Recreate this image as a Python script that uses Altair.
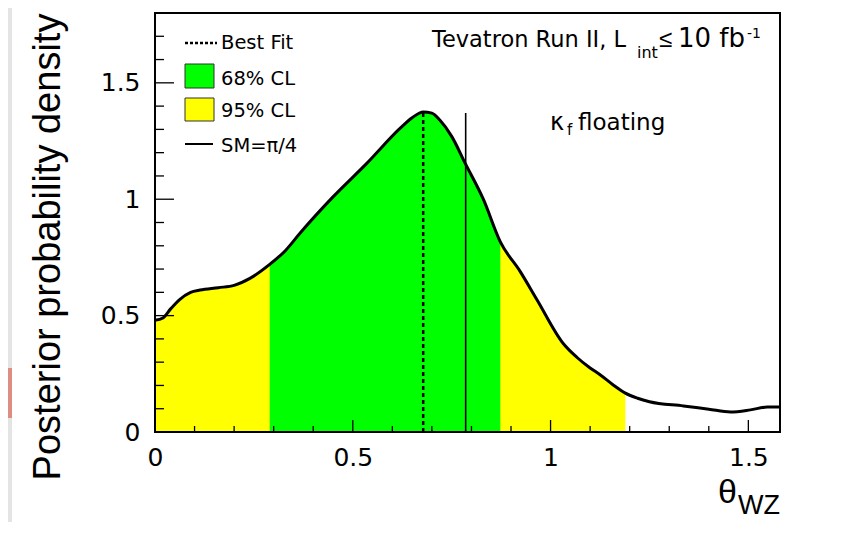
import altair as alt
import pandas as pd

# ---- data ----
theta = [0.0, 0.02, 0.04, 0.063, 0.09, 0.114, 0.16, 0.2, 0.24, 0.29, 0.33, 0.367,
         0.45, 0.536, 0.62, 0.65, 0.678, 0.70, 0.72, 0.75, 0.784, 0.83, 0.873,
         0.923, 0.966, 1.032, 1.067, 1.1, 1.126, 1.16, 1.189, 1.22, 1.25, 1.336,
         1.40, 1.455, 1.505, 1.548, 1.58]
density = [0.48, 0.49, 0.53, 0.57, 0.60, 0.61, 0.62, 0.63, 0.66, 0.72, 0.78, 0.855,
           1.01, 1.155, 1.305, 1.35, 1.375, 1.37, 1.34, 1.27, 1.155, 1.0, 0.817,
           0.69, 0.567, 0.38, 0.32, 0.275, 0.245, 0.20, 0.167, 0.145, 0.13, 0.112,
           0.098, 0.086, 0.095, 0.107, 0.107]
band68 = [0.29, 0.873]
band95 = [0.0, 1.189]
best_fit = [0.678]
best_fit_top = [1.375]
sm_value = [0.7854]
sm_top = [1.37]

x_domain = [0, 1.58]
y_domain = [0, 1.8]
x_major = [0.0, 0.5, 1.0, 1.5]
x_minor = [0.1, 0.2, 0.3, 0.4, 0.6, 0.7, 0.8, 0.9, 1.1, 1.2, 1.3, 1.4]
y_major = [0.0, 0.5, 1.0, 1.5]
y_minor = [0.1, 0.2, 0.3, 0.4, 0.6, 0.7, 0.8, 0.9, 1.1, 1.2, 1.3, 1.4, 1.6, 1.7]

W, H = 625, 419
FONT = "DejaVu Sans"
TITLE_FONT = "Liberation Sans"
GREEN = "#00ff00"
YELLOW = "#ffff00"

curve = pd.DataFrame({"x": theta, "y": density})

xscale = alt.Scale(domain=x_domain, nice=False, zero=False)
yscale = alt.Scale(domain=y_domain, nice=False, zero=False)
xaxis = alt.Axis(values=x_major, ticks=False, tickSize=0, domain=False, grid=False,
                 labelFont="DejaVu Sans", labelFontSize=25, labelPadding=13,
                 labelColor="black", labelFlush=False, labelOverlap=False,
                 format="~g", title="")
yaxis = alt.Axis(values=y_major, ticks=False, tickSize=0, domain=False, grid=False,
                 labelFont="DejaVu Sans", labelFontSize=25, labelPadding=15,
                 labelColor="black", labelFlush=False, labelOverlap=False,
                 format="~g", title="")


def X(f):
    return alt.X(f, type="quantitative", scale=xscale, axis=xaxis)


def Y(f):
    return alt.Y(f, type="quantitative", scale=yscale, axis=yaxis)


dummy = pd.DataFrame({"d": [0]})

yellow = alt.Chart(curve).transform_filter(
    (alt.datum.x >= band95[0]) & (alt.datum.x <= band95[1])
).mark_area(color=YELLOW, interpolate="monotone").encode(x=X("x"), y=Y("y"))

green = alt.Chart(curve).transform_filter(
    (alt.datum.x >= band68[0]) & (alt.datum.x <= band68[1])
).mark_area(color=GREEN, interpolate="monotone").encode(x=X("x"), y=Y("y"))

line = alt.Chart(curve).mark_line(color="black", strokeWidth=3, interpolate="monotone").encode(
    x=X("x"), y=Y("y"))

bf = alt.Chart(pd.DataFrame({"x": best_fit, "y": [0.0], "y2": best_fit_top})).mark_rule(
    color="black", strokeWidth=2.5, strokeDash=[4, 3]).encode(x=X("x"), y=Y("y"), y2="y2")

sm = alt.Chart(pd.DataFrame({"x": sm_value, "y": [0.0], "y2": sm_top})).mark_rule(
    color="black", strokeWidth=1.6).encode(x=X("x"), y=Y("y"), y2="y2")

xt_major = alt.Chart(pd.DataFrame({"x": x_major})).mark_rule(color="black", strokeWidth=1.3).encode(
    x=X("x"), y=alt.value(H), y2=alt.value(H - 12))
xt_minor = alt.Chart(pd.DataFrame({"x": x_minor})).mark_rule(color="black", strokeWidth=1.3).encode(
    x=X("x"), y=alt.value(H), y2=alt.value(H - 6))
yt_major = alt.Chart(pd.DataFrame({"y": y_major})).mark_rule(color="black", strokeWidth=1.3).encode(
    y=Y("y"), x=alt.value(0), x2=alt.value(19))
yt_minor = alt.Chart(pd.DataFrame({"y": y_minor})).mark_rule(color="black", strokeWidth=1.3).encode(
    y=Y("y"), x=alt.value(0), x2=alt.value(9))

frame = alt.Chart(dummy).mark_rect(filled=False, stroke="black", strokeWidth=2).encode(
    x=alt.value(0), x2=alt.value(W), y=alt.value(0), y2=alt.value(H))

# page decoration: grey strip and reddish smudge on the left edge
strip = alt.Chart(dummy).mark_rect(color="#e4e4e4").encode(
    x=alt.value(-147), x2=alt.value(-143), y=alt.value(-5), y2=alt.value(H + 90))
smudge = alt.Chart(dummy).mark_rect(color="#dc8f80").encode(
    x=alt.value(-147), x2=alt.value(-143), y=alt.value(355), y2=alt.value(405))

# legend
leg_dot = alt.Chart(dummy).mark_rule(color="black", strokeWidth=2.5, strokeDash=[3, 2]).encode(
    x=alt.value(30), x2=alt.value(62), y=alt.value(30))
leg_green = alt.Chart(dummy).mark_rect(color=GREEN, stroke="#333333", strokeWidth=1).encode(
    x=alt.value(30), x2=alt.value(59), y=alt.value(51), y2=alt.value(75))
leg_yellow = alt.Chart(dummy).mark_rect(color=YELLOW, stroke="#333333", strokeWidth=1).encode(
    x=alt.value(30), x2=alt.value(59), y=alt.value(85), y2=alt.value(108))
leg_sm = alt.Chart(dummy).mark_rule(color="black", strokeWidth=2).encode(
    x=alt.value(30), x2=alt.value(58), y=alt.value(131))


def txt(s, x, y, size, align="left", angle=0, font=FONT):
    kw = dict(text=s, font=font, fontSize=size, align=align, baseline="alphabetic", color="black")
    if angle:
        kw["angle"] = angle
    return alt.Chart(dummy).mark_text(**kw).encode(x=alt.value(x), y=alt.value(y))


texts = [
    txt("Best Fit", 66, 36, 19.5),
    txt("68% CL", 66, 72, 19.5),
    txt("95% CL", 66, 104, 19.5),
    txt("SM=π/4", 66, 139, 19.5),
    txt("Tevatron Run II, L", 277, 34, 22.5),
    txt("int", 482, 45, 16),
    txt("≤", 504, 34, 24, font=TITLE_FONT),
    txt("10 fb", 523, 34, 26),
    txt("-1", 592, 25, 14),
    txt("κ", 395, 117, 24),
    txt("f", 412, 122, 15),
    txt("floating", 423, 117, 23),
    txt("θ", 563, 490, 34, font=TITLE_FONT),
    txt("WZ", W, 501, 27, font=TITLE_FONT, align="right"),
    txt("Posterior probability density", -95, 234, 38, align="center", angle=270, font=TITLE_FONT),
]

chart = alt.layer(
    strip, smudge, yellow, green, line, bf, sm,
    xt_major, xt_minor, yt_major, yt_minor, frame,
    leg_dot, leg_green, leg_yellow, leg_sm, *texts
).properties(
    width=W, height=H,
    padding={"left": 147, "top": 5, "right": 65, "bottom": 90},
    autosize=alt.AutoSizeParams(type="none"),
).configure_view(strokeWidth=0).configure(background="white")

chart.save("out.html", embed_options={"renderer": "svg", "actions": False})
